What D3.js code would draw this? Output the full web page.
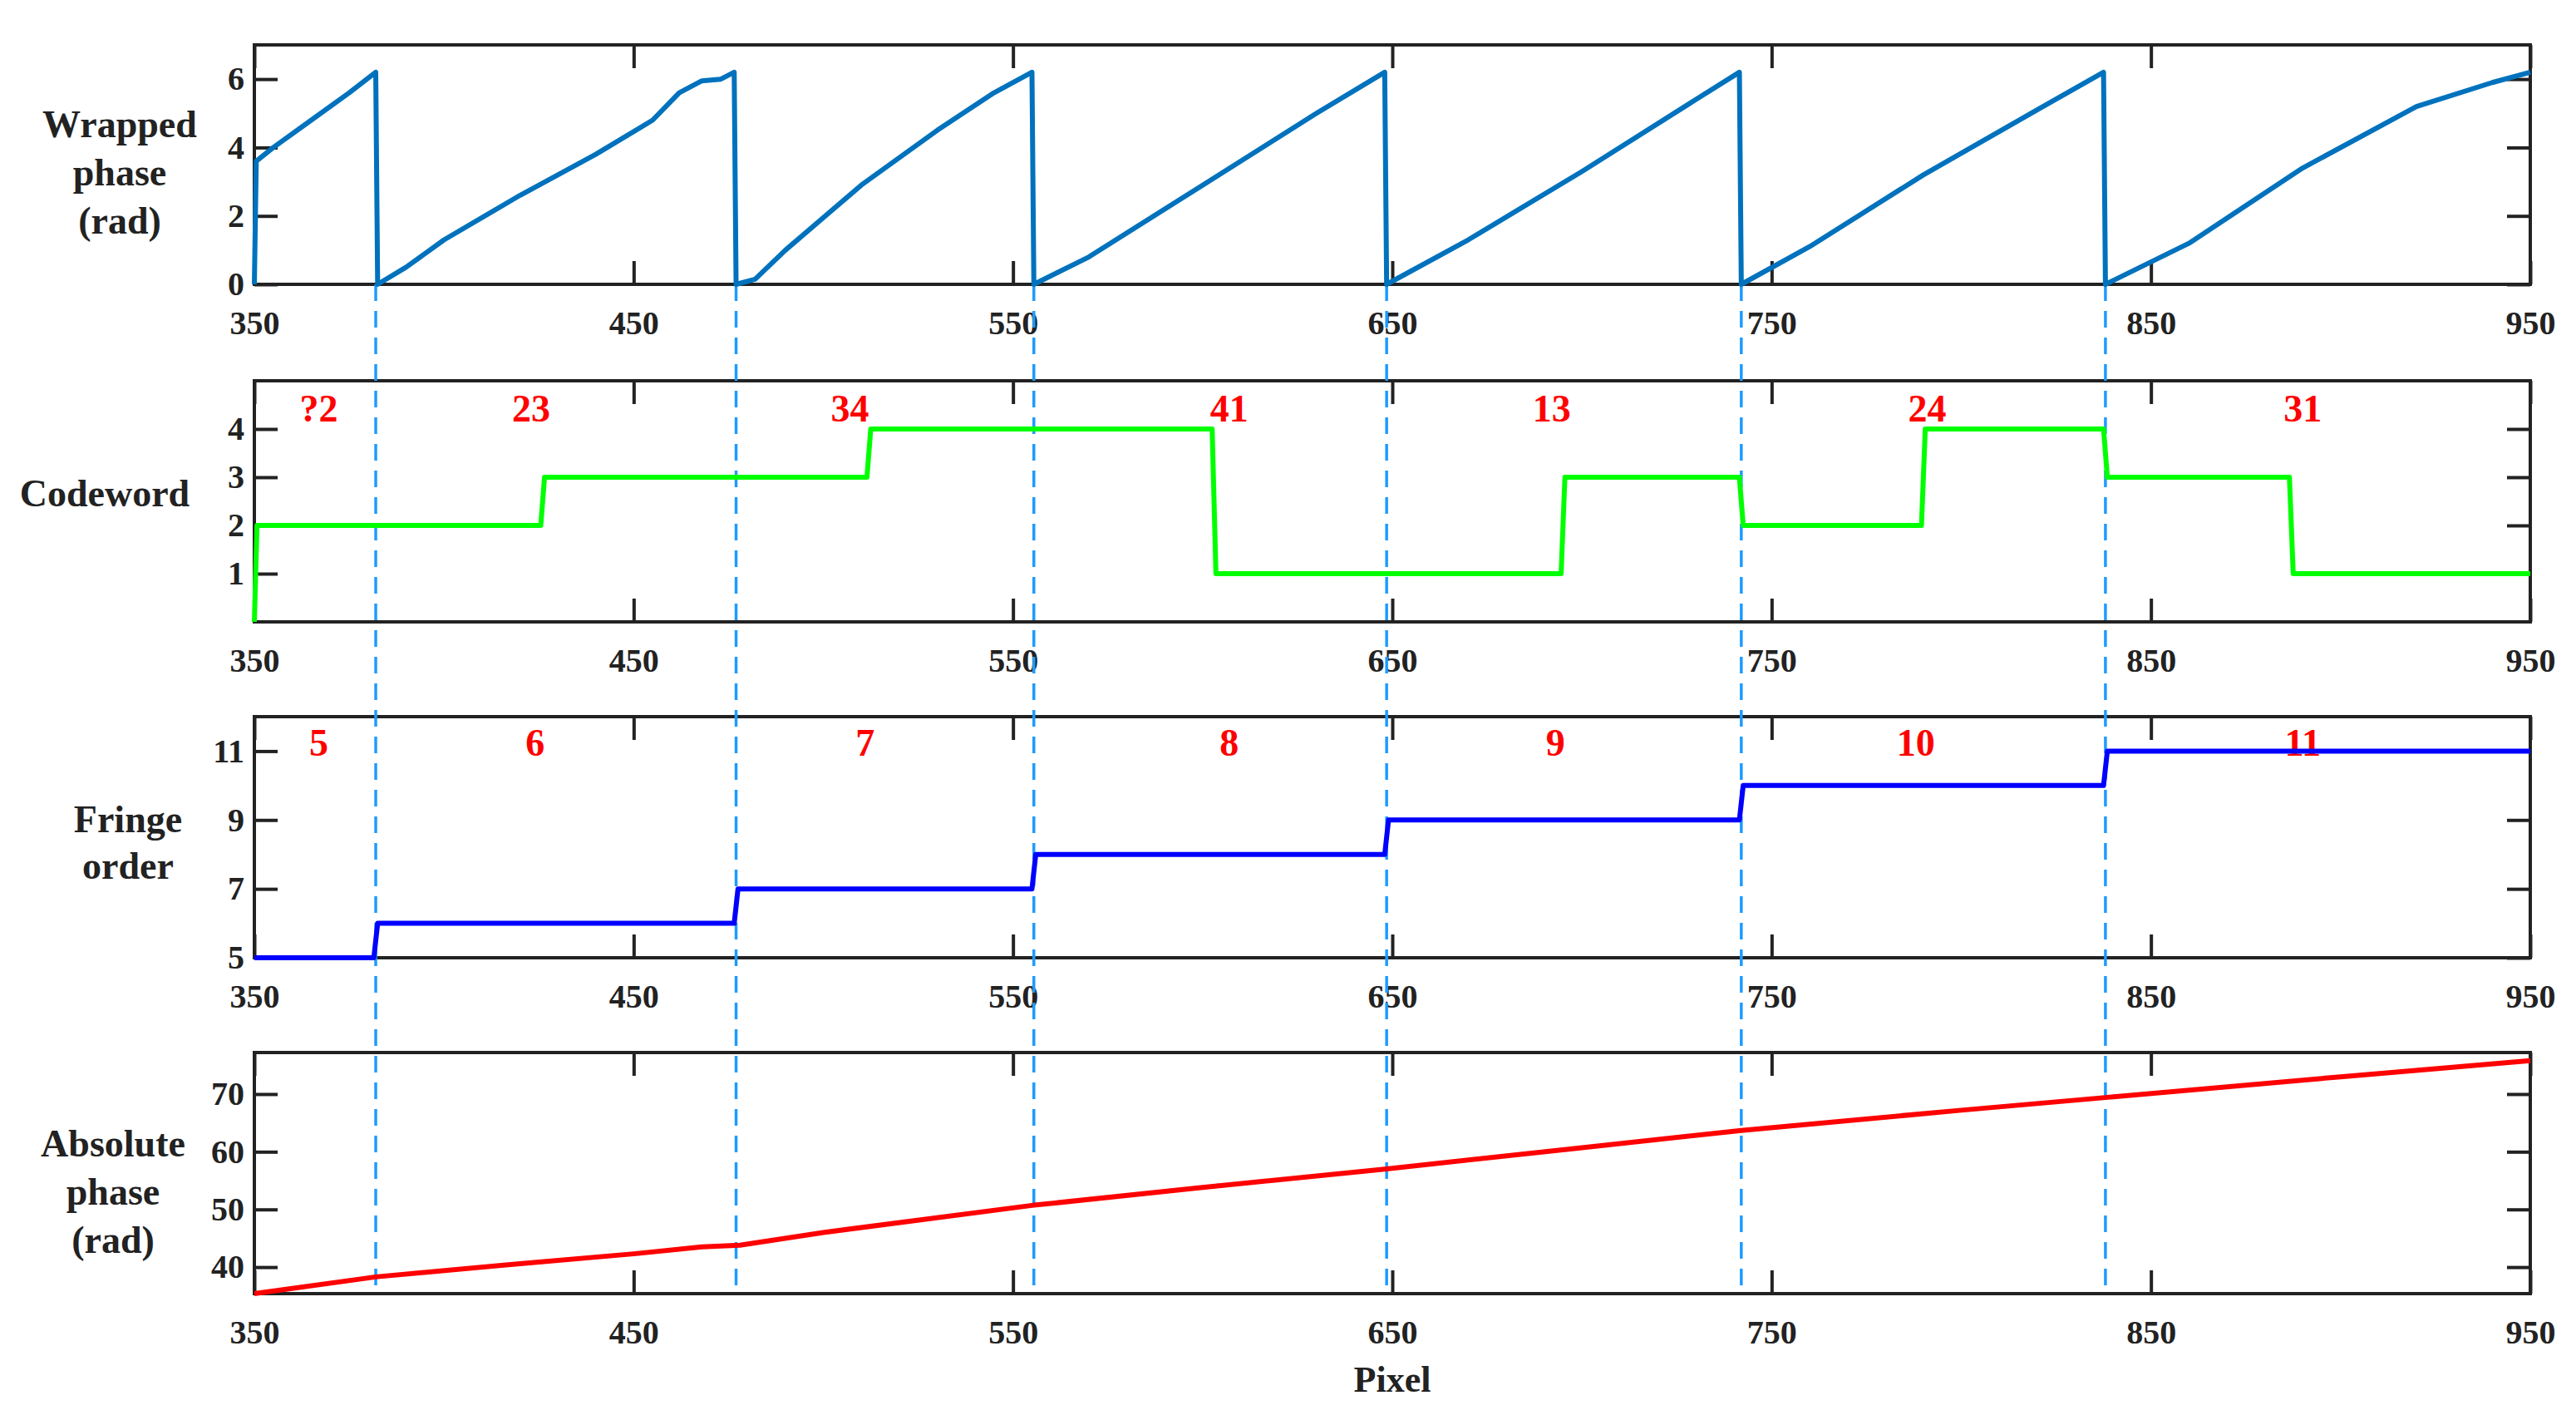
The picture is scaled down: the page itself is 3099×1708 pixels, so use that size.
<!DOCTYPE html><html><head><meta charset="utf-8"><script src="https://cdn.jsdelivr.net/npm/d3@7"></script>
<style>body{margin:0;background:#fff}svg text{font-family:"Liberation Serif",serif;font-weight:bold}</style></head><body><div id="c"></div><script>
const xTicks=[350,450,550,650,750,850,950];
const boundaries=[382,477,555.5,648.5,742,838];
// wrapped phase: segments of [pixel, value]
const wrapped=[[350,0],[350.5,3.6],[355,4.0],[365,4.8],[375,5.6],[382,6.2],[382.5,0],[390,0.5],[400,1.3],[420,2.6],[440,3.8],[455,4.8],[462,5.6],[468,5.95],[473,6.0],[476.5,6.2],[477,0],[482,0.15],[490,1.0],[510,2.9],[530,4.5],[545,5.6],[555,6.2],[555.5,0],[570,0.8],[600,2.9],[630,5.0],[648,6.2],[648.5,0],[670,1.3],[700,3.3],[730,5.4],[741.5,6.2],[742,0],[760,1.1],[790,3.2],[820,5.1],[837.5,6.2],[838,0],[860,1.2],[890,3.4],[920,5.2],[940,5.9],[950,6.2]];
const codeword=[[350,0],[350.7,2],[425.5,2],[426.5,3],[511.5,3],[512.5,4],[602.5,4],[603.5,1],[694.5,1],[695.5,3],[741.5,3],[742.5,2],[789.5,2],[790.5,4],[837.5,4],[838.5,3],[886.5,3],[887.5,1],[950,1]];
const cwLabels=["?2","23","34","41","13","24","31"];
const cwLabelX=[367,423,507,607,692,791,890];
const fringe=[[350,5],[381.5,5],[382.5,6],[476.5,6],[477.5,7],[555,7],[556,8],[648,8],[649,9],[741.5,9],[742.5,10],[837.5,10],[838.5,11],[950,11]];
const frLabels=["5","6","7","8","9","10","11"];
const frLabelX=[367,424,511,607,693,788,890];
const absolute=[[350,35.4],[382,38.3],[420,40.6],[450,42.3],[468,43.5],[478,43.8],[500,46],[555,50.7],[600,53.8],[648,57],[700,60.7],[742,63.7],[800,67.2],[838,69.4],[900,73],[950,75.8]];

const W=3099,H=1708,L=306,R=3044;
const svg=d3.select("#c").append("svg").attr("width",W).attr("height",H);
const x=d3.scaleLinear().domain([350,950]).range([L,R]);
const panels=[
 {top:54,bot:342,dom:[0,7],ticks:[0,2,4,6],data:wrapped,color:"#0072BD",label:["Wrapped","phase","(rad)"],lx:144,ly:[154,212,270]},
 {top:458,bot:748,dom:[0,5],ticks:[1,2,3,4],data:codeword,color:"#00ff00",label:["Codeword"],lx:126,ly:[598],ann:cwLabels,annX:cwLabelX,annY:496},
 {top:862,bot:1152,dom:[5,12],ticks:[5,7,9,11],data:fringe,color:"#0000ff",label:["Fringe","order"],lx:154,ly:[990,1046],ann:frLabels,annX:frLabelX,annY:898},
 {top:1266,bot:1556,dom:[35.4,77.2],ticks:[40,50,60,70],data:absolute,color:"#ff0000",label:["Absolute","phase","(rad)"],lx:136,ly:[1380,1438,1496]}
];
panels.forEach(p=>{
 const y=d3.scaleLinear().domain(p.dom).range([p.bot,p.top]);
 p.y=y;
 const g=svg.append("g");
 g.append("rect").attr("x",L).attr("y",p.top).attr("width",R-L).attr("height",p.bot-p.top).attr("fill","none").attr("stroke","#222").attr("stroke-width",4);
 const ax=g.append("g").attr("transform",`translate(0,${p.bot})`).call(d3.axisBottom(x).tickValues(xTicks).tickSize(-28).tickPadding(20).tickFormat(d3.format("d")));
 ax.select(".domain").remove();
 ax.selectAll("line").attr("stroke","#222").attr("stroke-width",4);
 ax.selectAll("text").attr("font-size",40).attr("fill","#222").attr("dy","0.75em").attr("transform","translate(0,10)");
 const at=g.append("g").attr("transform",`translate(0,${p.top})`).call(d3.axisTop(x).tickValues(xTicks).tickSize(-28).tickFormat(""));
 at.select(".domain").remove(); at.selectAll("line").attr("stroke","#222").attr("stroke-width",4);
 const ay=g.append("g").attr("transform",`translate(${L},0)`).call(d3.axisLeft(y).tickValues(p.ticks).tickSize(-28).tickPadding(12).tickFormat(d3.format("d")));
 ay.select(".domain").remove(); ay.selectAll("line").attr("stroke","#222").attr("stroke-width",4);
 ay.selectAll("text").attr("font-size",40).attr("fill","#222");
 const ar=g.append("g").attr("transform",`translate(${R},0)`).call(d3.axisRight(y).tickValues(p.ticks).tickSize(-28).tickFormat(""));
 ar.select(".domain").remove(); ar.selectAll("line").attr("stroke","#222").attr("stroke-width",4);
 p.label.forEach((t,i)=>g.append("text").attr("x",p.lx).attr("y",p.ly[i]).attr("text-anchor","middle").attr("dominant-baseline","middle").attr("font-size",46).attr("fill","#222").text(t));
 if(p.ann) p.ann.forEach((t,i)=>g.append("text").attr("x",x(p.annX[i])).attr("y",p.annY).attr("text-anchor","middle").attr("dominant-baseline","middle").attr("font-size",46).attr("fill","#ff0000").text(t));
});
svg.append("text").attr("x",x(650)).attr("y",1664).attr("text-anchor","middle").attr("dominant-baseline","middle").attr("font-size",44).attr("fill","#222").text("Pixel");
svg.selectAll(".bnd").data(boundaries).enter().append("line").attr("x1",d=>x(d)).attr("x2",d=>x(d)).attr("y1",panels[0].bot).attr("y2",panels[3].bot)
 .attr("stroke","#1e9bff").attr("stroke-width",3.5).attr("stroke-dasharray","20,12");
panels.forEach(p=>{
 svg.append("path").datum(p.data).attr("fill","none").attr("stroke",p.color).attr("stroke-width",6).attr("stroke-linejoin","round")
  .attr("d",d3.line().x(d=>x(d[0])).y(d=>p.y(d[1])));
});
</script></body></html>
